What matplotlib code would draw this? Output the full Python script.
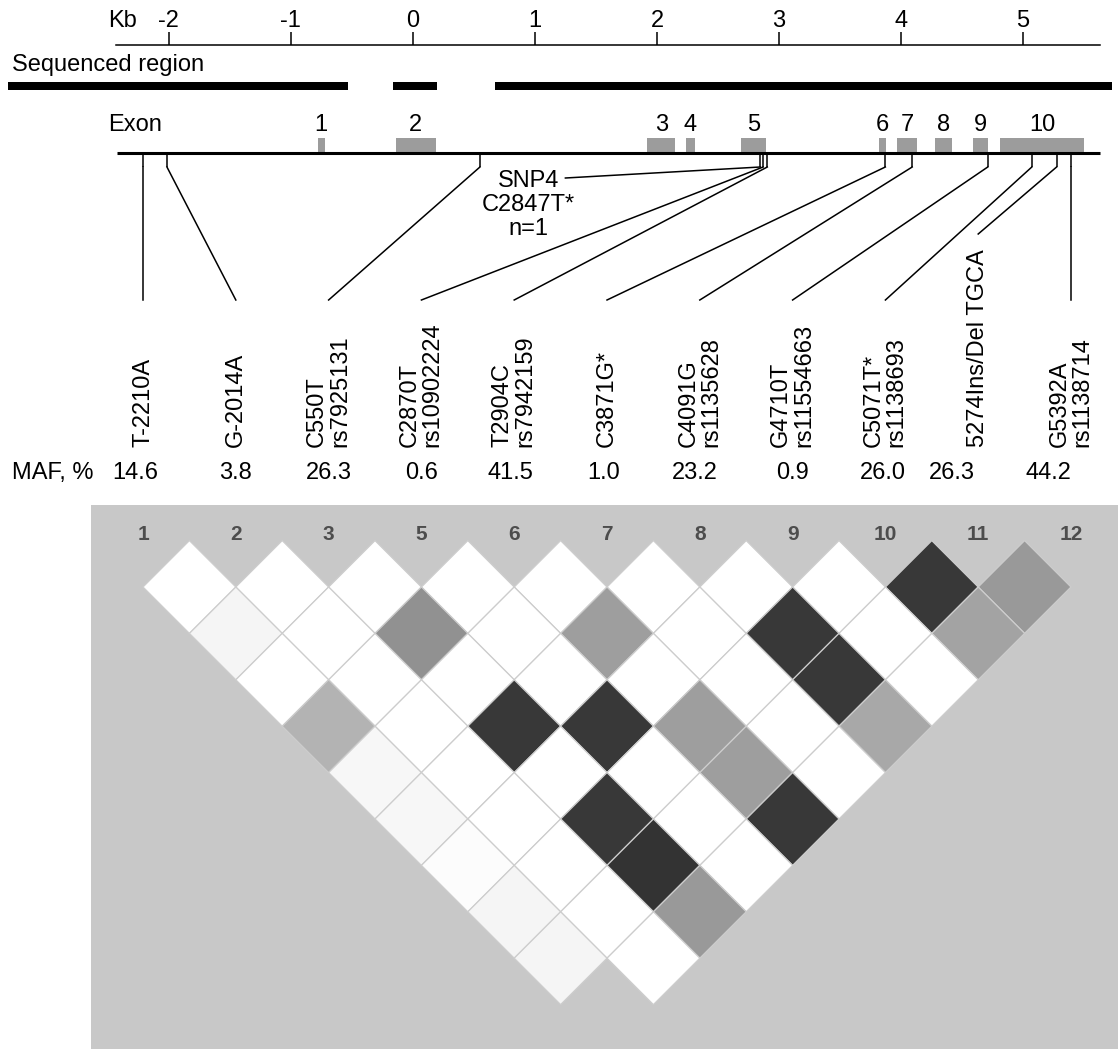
import numpy as np
import matplotlib.pyplot as plt
from matplotlib.patches import Polygon, Rectangle

plt.rcParams['font.family'] = ['Liberation Sans', 'DejaVu Sans']
plt.rcParams['font.size'] = 17

# gene map, positions in kb
kb_ticks = [-2, -1, 0, 1, 2, 3, 4, 5]
seq_start = [-3.32, -0.16, 0.67]
seq_end = [-0.53, 0.20, 5.73]
exon_names = ['1', '2', '3', '4', '5', '6', '7', '8', '9', '10']
exon_start = [-0.78, -0.14, 1.92, 2.24, 2.69, 3.82, 3.97, 4.28, 4.59, 4.81]
exon_end = [-0.72, 0.19, 2.15, 2.31, 2.89, 3.88, 4.13, 4.42, 4.71, 5.50]

# SNPs (bp from start), SNP4 was not typed in the LD panel
snp_bp = [-2210, -2014, 550, 2847, 2870, 2904, 3871, 4091, 4710, 5071, 5274, 5392]
snp_names = ['T-2210A', 'G-2014A', 'C550T\nrs7925131', 'SNP4\nC2847T*\nn=1',
             'C2870T\nrs10902224', 'T2904C\nrs7942159', 'C3871G*',
             'C4091G\nrs1135628', 'G4710T\nrs11554663', 'C5071T*\nrs1138693',
             '5274Ins/Del TGCA', 'G5392A\nrs1138714']
untyped = 3
maf = [14.6, 3.8, 26.3, 0.6, 41.5, 1.0, 23.2, 0.9, 26.0, 26.3, 44.2]

# LD panel: marker numbers and shading (0 white .. 1 black)
# row k holds the pairs (i, i+k+1)
ld_names = ['1', '2', '3', '5', '6', '7', '8', '9', '10', '11', '12']
ld_rows = [
    [0, 0, 0, 0, 0, 0, 0, 0, 0.78, 0.40],
    [0.04, 0, 0.43, 0, 0.38, 0, 0.78, 0, 0.36],
    [0, 0, 0, 0, 0, 0, 0.78, 0],
    [0.30, 0, 0.78, 0.78, 0.38, 0, 0.34],
    [0.03, 0, 0, 0, 0.38, 0],
    [0.03, 0, 0.78, 0, 0.78],
    [0.01, 0, 0.80, 0],
    [0.04, 0, 0.40],
    [0.04, 0],
    [None],
]

PX = 122.07  # pixels per kb
fig = plt.figure(figsize=(11.18, 10.49), dpi=100)
ax = fig.add_axes([0, 0, 1, 1])
xl, xr = -412.8 / PX, (1118 - 412.8) / PX
ax.set_xlim(xl, xr)
ax.set_ylim(1049, 0)
ax.axis('off')

# Kb scale
ax.plot([-2.43, 5.63], [45, 45], color='k', lw=1.1)
ax.vlines(kb_ticks, 32, 45, color='k', lw=1.1)
for t in kb_ticks:
    ax.text(t, 21, str(t), ha='center', va='center')
ax.text(-2.50, 21, 'Kb', ha='left', va='center')

# sequenced region
ax.text(-3.28, 65, 'Sequenced region', ha='left', va='center')
ax.broken_barh([(s, e - s) for s, e in zip(seq_start, seq_end)], (82, 8), facecolors='black')

# exons and gene line
ax.text(-2.50, 125, 'Exon', ha='left', va='center')
ax.broken_barh([(s, e - s) for s, e in zip(exon_start, exon_end)], (138, 14), facecolors='#9c9c9c')
for n, s, e in zip(exon_names, exon_start, exon_end):
    ax.text((s + e) / 2, 125, n, ha='center', va='center')
ax.plot([-2.42, 5.63], [152.7, 152.7], color='k', lw=2.2, solid_capstyle='butt')

snp_kb = np.array(snp_bp) / 1000.0
ax.vlines(snp_kb, 153, 167, color='k', lw=1.1)

typed = [i for i in range(len(snp_bp)) if i != untyped]
cols = np.linspace(snp_kb[typed[0]], snp_kb[typed[-1]], len(typed))
maf_nudge = [-8, 0, 0, 0, -4, -3, -5, 0, -3, -26, -23]

for c, i in zip(cols, typed):
    name = snp_names[i]
    # the one long single-line label needs its leader to stop higher
    end_y = 234 if ('\n' not in name and len(name) > 10) else 300
    ax.plot([snp_kb[i], c], [167, end_y], color='k', lw=1.1)
    ax.text(c, 447, name, rotation=90, ha='center', va='bottom',
            multialignment='left', linespacing=1.05)

# the untyped SNP is labelled in place
ax.text(0.945, 205, snp_names[untyped], ha='center', va='center', linespacing=1.1)
ax.plot([1.25, snp_kb[untyped]], [178, 167], color='k', lw=1.1)

ax.text(-3.28, 473, 'MAF, %', ha='left', va='center')
for c, m, dx in zip(cols, maf, maf_nudge):
    ax.text(c + dx / PX, 473, '%.1f' % m, ha='center', va='center')

# LD plot
ax.add_patch(Rectangle((91 / PX + xl, 505), xr - (91 / PX + xl), 1049 - 505,
                       facecolor='#c8c8c8', edgecolor='none'))
for c, n in zip(cols, ld_names):
    ax.text(c, 534, n, ha='center', va='center', fontsize=15,
            fontweight='bold', color='#4d4d4d')

step = cols[1] - cols[0]
w = step / 2
h = step / 2 * PX
for k, row in enumerate(ld_rows):
    for i, v in enumerate(row):
        if v is None:
            continue
        j = i + k + 1
        cx = (cols[i] + cols[j]) / 2
        cy = 587 + k * h
        g = 1 - v
        ax.add_patch(Polygon([(cx - w, cy), (cx, cy - h), (cx + w, cy), (cx, cy + h)],
                             closed=True, facecolor=(g, g, g), edgecolor='#cdcdcd', lw=0.9))

fig.savefig('out.png', dpi=100)
